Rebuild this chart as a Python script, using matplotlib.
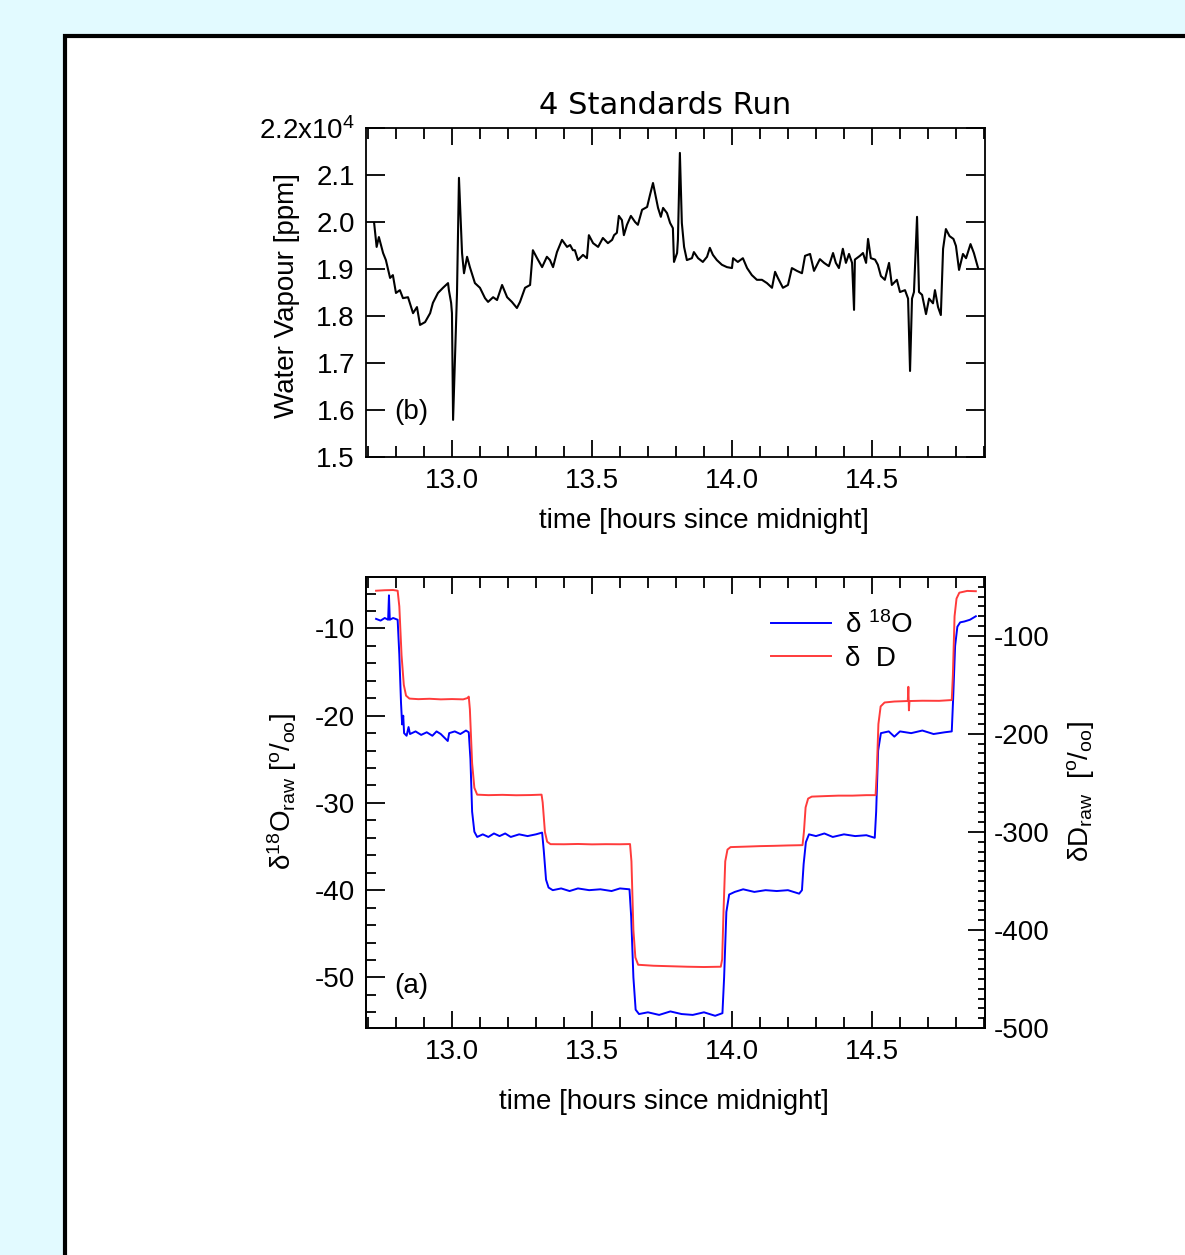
import matplotlib
matplotlib.use("Agg")
import matplotlib.pyplot as plt
from matplotlib.patches import Rectangle
from matplotlib.ticker import MultipleLocator, FuncFormatter

plt.rcParams['font.family'] = ['Liberation Sans', 'DejaVu Sans']
plt.rcParams['mathtext.default'] = 'regular'
plt.rcParams['axes.unicode_minus'] = False

# water vapour trace: time [h], concentration [ppm]
wv_time = [12.722, 12.731, 12.739, 12.754, 12.764, 12.779, 12.789, 12.800, 12.814, 12.825,
           12.843, 12.861, 12.875, 12.886, 12.904, 12.922, 12.932, 12.950, 12.968, 12.986,
           12.989, 12.997, 13.000, 13.004, 13.014, 13.018, 13.025, 13.036, 13.043, 13.054,
           13.064, 13.082, 13.100, 13.118, 13.129, 13.147, 13.161, 13.179, 13.197, 13.214,
           13.232, 13.243, 13.261, 13.279, 13.289, 13.304, 13.322, 13.339, 13.350, 13.361,
           13.375, 13.393, 13.411, 13.422, 13.432, 13.439, 13.450, 13.468, 13.482, 13.489,
           13.504, 13.522, 13.539, 13.557, 13.572, 13.579, 13.589, 13.596, 13.607, 13.614,
           13.625, 13.639, 13.654, 13.664, 13.679, 13.697, 13.707, 13.718, 13.729, 13.736,
           13.746, 13.754, 13.768, 13.779, 13.789, 13.793, 13.804, 13.807, 13.814, 13.821,
           13.829, 13.839, 13.857, 13.864, 13.879, 13.896, 13.911, 13.921, 13.932, 13.946,
           13.964, 13.982, 14.000, 14.004, 14.021, 14.039, 14.054, 14.071, 14.089, 14.107,
           14.125, 14.143, 14.154, 14.164, 14.182, 14.200, 14.214, 14.232, 14.250, 14.261,
           14.279, 14.293, 14.314, 14.329, 14.346, 14.361, 14.371, 14.382, 14.396, 14.407,
           14.418, 14.429, 14.436, 14.439, 14.457, 14.468, 14.479, 14.486, 14.496, 14.511,
           14.521, 14.532, 14.546, 14.561, 14.571, 14.589, 14.600, 14.618, 14.629, 14.636,
           14.643, 14.650, 14.661, 14.668, 14.679, 14.693, 14.704, 14.718, 14.725, 14.736,
           14.746, 14.754, 14.764, 14.777, 14.791, 14.800, 14.811, 14.825, 14.836, 14.852,
           14.864, 14.879]
wv_ppm = [19980, 19470, 19680, 19340, 19190, 18810, 18870, 18490, 18550, 18380,
          18400, 18060, 18190, 17810, 17870, 18060, 18280, 18490, 18600, 18700,
          18550, 18280, 18060, 15790, 17770, 18490, 20940, 19340, 18910, 19260,
          19040, 18700, 18600, 18380, 18300, 18400, 18340, 18660, 18400, 18300,
          18170, 18300, 18600, 18660, 19400, 19230, 19040, 19260, 19190, 19040,
          19360, 19620, 19470, 19510, 19400, 19400, 19190, 19300, 19230, 19720,
          19550, 19470, 19660, 19550, 19620, 19720, 19770, 20130, 20040, 19720,
          19940, 20130, 20000, 19940, 20260, 20320, 20570, 20830, 20510, 20300,
          20110, 20300, 20190, 19980, 19870, 19150, 19340, 19620, 21470, 19980,
          19470, 19190, 19230, 19360, 19230, 19150, 19260, 19450, 19300, 19190,
          19090, 19040, 19020, 19230, 19150, 19230, 19020, 18870, 18770, 18770,
          18700, 18600, 18940, 18810, 18600, 18660, 19020, 18960, 18910, 19280,
          19320, 18960, 19210, 19130, 19060, 19340, 19130, 19020, 19430, 19130,
          19320, 19130, 18130, 19200, 19280, 19340, 19130, 19640, 19230, 19200,
          19090, 18850, 18770, 19130, 18660, 18770, 18510, 18550, 18370, 16830,
          18370, 18510, 20110, 18510, 18450, 18040, 18370, 18270, 18550, 18190,
          18020, 19430, 19850, 19700, 19640, 19490, 18980, 19320, 19230, 19530,
          19340, 19020]

# isotope run: time [h], delta 18O [permil]
o18_time = [12.729, 12.745, 12.760, 12.772, 12.775, 12.778, 12.790, 12.806, 12.812, 12.818,
            12.822, 12.826, 12.829, 12.838, 12.845, 12.850, 12.870, 12.890, 12.910, 12.930,
            12.945, 12.960, 12.985, 12.990, 13.010, 13.030, 13.050, 13.060, 13.066, 13.072,
            13.080, 13.090, 13.110, 13.130, 13.150, 13.170, 13.190, 13.210, 13.240, 13.270,
            13.300, 13.322, 13.328, 13.336, 13.345, 13.360, 13.390, 13.420, 13.450, 13.490,
            13.530, 13.570, 13.600, 13.634, 13.640, 13.648, 13.656, 13.668, 13.700, 13.740,
            13.780, 13.820, 13.860, 13.900, 13.940, 13.966, 13.972, 13.980, 13.990, 14.010,
            14.040, 14.080, 14.120, 14.160, 14.200, 14.240, 14.250, 14.256, 14.264, 14.275,
            14.300, 14.330, 14.360, 14.400, 14.440, 14.480, 14.510, 14.515, 14.522, 14.532,
            14.560, 14.580, 14.600, 14.640, 14.680, 14.720, 14.760, 14.785, 14.790, 14.797,
            14.805, 14.815, 14.830, 14.850, 14.871]
o18_val = [-8.9, -9.1, -8.8, -9.0, -6.2, -9.0, -8.8, -9.0, -13.0, -18.5,
           -21.0, -20.0, -22.0, -22.3, -21.3, -22.1, -21.8, -22.2, -21.9, -22.3,
           -21.8, -22.1, -22.9, -22.0, -21.8, -22.1, -21.7, -21.9, -25.0, -31.0,
           -33.3, -33.9, -33.6, -33.9, -33.5, -33.8, -33.5, -33.9, -33.6, -33.8,
           -33.6, -33.4, -35.5, -38.8, -39.7, -40.0, -39.8, -40.1, -39.8, -40.0,
           -39.9, -40.1, -39.8, -39.9, -43.0, -50.0, -53.7, -54.2, -54.0, -54.3,
           -53.9, -54.2, -54.3, -54.0, -54.4, -54.1, -50.0, -42.5, -40.5, -40.2,
           -39.9, -40.2, -40.0, -40.1, -40.0, -40.4, -40.0, -37.0, -34.5, -33.6,
           -33.8, -33.5, -33.9, -33.6, -33.8, -33.7, -34.0, -31.0, -24.0, -22.0,
           -21.8, -22.4, -21.8, -22.0, -21.7, -22.1, -21.9, -21.8, -18.0, -12.0,
           -9.8, -9.3, -9.2, -9.0, -8.6]

# isotope run: time [h], delta D [permil]
dd_time = [12.729, 12.760, 12.790, 12.806, 12.812, 12.820, 12.828, 12.836, 12.848, 12.880,
           12.920, 12.960, 13.000, 13.040, 13.055, 13.060, 13.064, 13.072, 13.080, 13.090,
           13.130, 13.180, 13.230, 13.280, 13.320, 13.324, 13.332, 13.340, 13.352, 13.400,
           13.450, 13.500, 13.550, 13.600, 13.636, 13.641, 13.648, 13.655, 13.665, 13.720,
           13.780, 13.840, 13.900, 13.960, 13.965, 13.970, 13.976, 13.984, 13.995, 14.050,
           14.100, 14.150, 14.200, 14.252, 14.257, 14.263, 14.272, 14.285, 14.330, 14.380,
           14.430, 14.480, 14.513, 14.517, 14.523, 14.531, 14.545, 14.580, 14.628, 14.630,
           14.632, 14.634, 14.680, 14.740, 14.785, 14.789, 14.795, 14.802, 14.812, 14.840,
           14.871]
dd_val = [-54.0, -53.5, -53.3, -54.0, -70.0, -120.0, -150.0, -161.0, -164.0, -164.6,
          -164.2, -164.8, -164.5, -164.8, -163.5, -162.0, -175.0, -230.0, -255.0, -262.0,
          -262.5, -262.2, -262.6, -262.4, -262.0, -270.0, -300.0, -310.0, -312.5, -312.6,
          -312.3, -312.7, -312.5, -312.6, -312.4, -330.0, -400.0, -428.0, -435.5, -436.5,
          -437.0, -437.5, -437.8, -437.5, -430.0, -380.0, -330.0, -318.0, -315.5, -315.0,
          -314.5, -314.2, -313.8, -313.5, -300.0, -275.0, -266.0, -264.0, -263.5, -263.0,
          -263.0, -262.5, -262.5, -240.0, -190.0, -172.0, -168.0, -167.0, -166.5, -152.0,
          -176.0, -166.5, -166.2, -166.3, -165.5, -140.0, -80.0, -62.0, -56.0, -54.2,
          -54.5]

W, H = 1185, 1255
fig = plt.figure(figsize=(W / 100, H / 100), dpi=100)
fig.patch.set_facecolor('#E2FAFF')

# white page with a black frame running off the right and bottom edges
page = Rectangle((65 / W, -0.2), 2.0, 1 - 36 / H + 0.2, transform=fig.transFigure,
                 facecolor='white', edgecolor='black', linewidth=3, zorder=-1)
fig.add_artist(page)

FS = 20
x0, xw = 366 / W, (985 - 366) / W
ax_b = fig.add_axes([x0, 1 - 457 / H, xw, (457 - 128) / H])
ax_a = fig.add_axes([x0, 1 - 1028 / H, xw, (1028 - 577) / H])

t_lim = (12.693, 12.693 + 619 / 280)

# (b) water vapour
ax_b.plot(wv_time, wv_ppm, color='black', lw=1.5)
ax_b.set_xlim(*t_lim)
ax_b.set_ylim(15000, 22000)
ax_b.yaxis.set_major_locator(MultipleLocator(1000))
ax_b.yaxis.set_major_formatter(FuncFormatter(
    lambda v, p: '2.2x10$^{4}$' if abs(v - 22000) < 1 else f'{v / 1e4:.1f}'))
ax_b.set_ylabel('Water Vapour [ppm]', fontsize=FS)
ax_b.yaxis.set_label_coords(-0.107, 0.49)
ax_b.set_title('4 Standards Run', fontsize=22, pad=10, family='DejaVu Sans', x=0.483)
ax_b.text(0.045, 0.115, '(b)', transform=ax_b.transAxes, fontsize=FS)
ax_b.set_xlabel('time [hours since midnight]', fontsize=FS)
ax_b.xaxis.set_label_coords(0.546, -0.155)

# (a) isotopes, delta D on a twin axis
ax_d = ax_a.twinx()
ln_o, = ax_a.plot(o18_time, o18_val, color='#0000FF', lw=1.4)
ln_d, = ax_d.plot(dd_time, dd_val, color='#FF3B3B', lw=1.4)
ax_a.set_xlim(*t_lim)
ax_a.set_ylim(-55.8, -4.1)
ax_d.set_ylim(-500, -40)
ax_a.yaxis.set_major_locator(MultipleLocator(10))
ax_a.yaxis.set_minor_locator(MultipleLocator(2))
ax_d.yaxis.set_major_locator(MultipleLocator(100))
ax_d.yaxis.set_minor_locator(MultipleLocator(10))
ax_a.set_ylabel('δ$^{18}$O$_{raw}$ [$^{o}$/$_{oo}$]', fontsize=FS)
ax_a.yaxis.set_label_coords(-0.109, 0.525)
ax_d.set_ylabel('δD$_{raw}$  [$^{o}$/$_{oo}$]', fontsize=FS, rotation=90)
ax_d.yaxis.set_label_coords(1.129, 0.525)
ax_a.text(0.045, 0.077, '(a)', transform=ax_a.transAxes, fontsize=FS)
ax_a.legend([ln_o, ln_d], ['δ $^{18}$O', 'δ  D'], loc='upper left',
            bbox_to_anchor=(0.655, 0.925), frameon=False, fontsize=FS,
            handlelength=2.15, handletextpad=0.5, borderpad=0, borderaxespad=0,
            labelspacing=0.25)
ax_a.set_xlabel('time [hours since midnight]', fontsize=FS)
ax_a.xaxis.set_label_coords(0.482, -0.135)

for ax in (ax_b, ax_a):
    ax.xaxis.set_major_locator(MultipleLocator(0.5))
    ax.xaxis.set_minor_locator(MultipleLocator(0.1))
    ax.tick_params(axis='x', which='both', direction='in', top=True, bottom=True,
                   labelsize=FS, pad=8)
    ax.tick_params(axis='x', which='major', length=12, width=1.3)
    ax.tick_params(axis='x', which='minor', length=8, width=1.3)
    for s in ax.spines.values():
        s.set_linewidth(1.3)

ax_b.tick_params(axis='y', which='major', direction='in', left=True, right=True,
                 length=14, width=1.3, labelsize=FS, pad=8)
ax_a.tick_params(axis='y', which='both', direction='in', left=True, right=False,
                 labelsize=FS, pad=8, width=1.3)
ax_a.tick_params(axis='y', which='major', length=14)
ax_a.tick_params(axis='y', which='minor', length=7)
ax_d.tick_params(axis='y', which='both', direction='in', labelsize=FS, pad=6, width=1.3)
ax_d.tick_params(axis='y', which='major', length=12)
ax_d.tick_params(axis='y', which='minor', length=5)
for s in ax_d.spines.values():
    s.set_linewidth(1.3)

fig.savefig('out.png', dpi=100, facecolor=fig.get_facecolor())
